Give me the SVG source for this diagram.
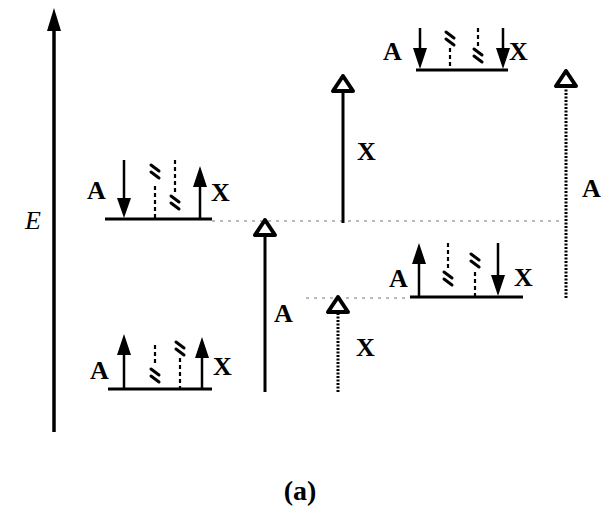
<svg xmlns="http://www.w3.org/2000/svg" width="601" height="512" viewBox="0 0 601 512">
<style>
.lvl{stroke:#000;stroke-width:3;fill:none}
.spin{stroke:#000;stroke-width:2.5;fill:none}
.head{fill:#000;stroke:none}
.dash{stroke:#000;stroke-width:2.2;stroke-dasharray:4 3;fill:none}
.brk{stroke:#000;stroke-width:3;fill:none;stroke-linecap:round}
.lab{font-family:"Liberation Serif",serif;font-weight:bold;font-size:26px;fill:#000}
.shaft{stroke:#000;stroke-width:3;fill:none}
.dot{stroke:#000;stroke-width:3;stroke-dasharray:2 1.5;fill:none}
.hollow{fill:#fff;stroke:#000;stroke-width:4;stroke-linejoin:round}
.guide{stroke:#777;stroke-width:1;stroke-dasharray:3 5;fill:none}
</style>
<rect width="601" height="512" fill="#fff"/>
<g id="axis">
<line x1="54" y1="432" x2="54" y2="28" stroke="#000" stroke-width="3.5"/>
<polygon points="54,8 47,31 61,31" class="head"/>
<text x="25" y="229" font-family="Liberation Serif,serif" font-style="italic" font-size="26">E</text>
</g>
<g id="guides">
<line x1="212" y1="221" x2="560" y2="221" class="guide"/>
<line x1="306" y1="298" x2="410" y2="298" class="guide"/>
</g>
<g id="level1">
<line x1="105" y1="219" x2="212" y2="219" class="lvl"/>
<line x1="124" y1="160" x2="124" y2="202" class="spin"/>
<polygon points="124,218 117,198 131,198" class="head"/>
<line x1="155" y1="186" x2="155" y2="219" class="dash"/>
<path d="M151,165 l8,6 M151,172 l8,6" class="brk"/>
<line x1="175" y1="160" x2="175" y2="192" class="dash"/>
<path d="M171,196 l8,6 M171,203 l8,6" class="brk"/>
<line x1="200" y1="219" x2="200" y2="184" class="spin"/>
<polygon points="200,166 193,187 207,187" class="head"/>
<text x="87" y="199" class="lab">A</text>
<text x="211" y="201" class="lab">X</text>
</g>
<g id="level2">
<line x1="108" y1="389" x2="212" y2="389" class="lvl"/>
<line x1="124" y1="389" x2="124" y2="352" class="spin"/>
<polygon points="124,334 117,355 131,355" class="head"/>
<line x1="155" y1="345" x2="155" y2="365" class="dash"/>
<path d="M151,369 l8,6 M151,376 l8,6" class="brk"/>
<line x1="180" y1="358" x2="180" y2="389" class="dash"/>
<path d="M176,342 l8,6 M176,349 l8,6" class="brk"/>
<line x1="202" y1="389" x2="202" y2="355" class="spin"/>
<polygon points="202,337 195,358 209,358" class="head"/>
<text x="90" y="379" class="lab">A</text>
<text x="213" y="375" class="lab">X</text>
</g>
<g id="level3">
<line x1="416" y1="70" x2="508" y2="70" class="lvl"/>
<line x1="420" y1="28" x2="420" y2="52" class="spin"/>
<polygon points="420,69 413,48 427,48" class="head"/>
<line x1="450" y1="48" x2="450" y2="70" class="dash"/>
<path d="M446,32 l8,6 M446,39 l8,6" class="brk"/>
<line x1="478" y1="28" x2="478" y2="46" class="dash"/>
<path d="M474,49 l8,6 M474,56 l8,6" class="brk"/>
<line x1="503" y1="28" x2="503" y2="52" class="spin"/>
<polygon points="503,69 496,48 510,48" class="head"/>
<text x="383" y="60" class="lab">A</text>
<text x="509" y="60" class="lab">X</text>
</g>
<g id="level4">
<line x1="410" y1="297" x2="523" y2="297" class="lvl"/>
<line x1="419" y1="297" x2="419" y2="262" class="spin"/>
<polygon points="419,243 412,264 426,264" class="head"/>
<line x1="448" y1="243" x2="448" y2="268" class="dash"/>
<path d="M444,272 l8,6 M444,279 l8,6" class="brk"/>
<line x1="475" y1="272" x2="475" y2="297" class="dash"/>
<path d="M471,254 l8,6 M471,261 l8,6" class="brk"/>
<line x1="498" y1="243" x2="498" y2="280" class="spin"/>
<polygon points="498,296 491,275 505,275" class="head"/>
<text x="389" y="287" class="lab">A</text>
<text x="514" y="286" class="lab">X</text>
</g>
<g id="connectors">
<g id="t1">
<line x1="265" y1="392" x2="265" y2="236" class="shaft"/>
<polygon points="265,220 255,235 275,235" class="hollow"/>
<text x="274" y="322" class="lab">A</text>
</g>
<g id="t2">
<line x1="338" y1="392" x2="338" y2="312" class="dot"/>
<polygon points="338,297 328,312 348,312" class="hollow"/>
<text x="356" y="356" class="lab">X</text>
</g>
<g id="t3">
<line x1="343" y1="223" x2="343" y2="91" class="shaft"/>
<polygon points="343,76 333,91 353,91" class="hollow"/>
<text x="357" y="160" class="lab">X</text>
</g>
<g id="t4">
<line x1="566" y1="298" x2="566" y2="86" class="dot"/>
<polygon points="566,71 556,86 576,86" class="hollow"/>
<text x="582" y="197" class="lab">A</text>
</g>
</g>
<text x="300" y="500" text-anchor="middle" class="lab" style="font-size:28px">(a)</text>
</svg>
